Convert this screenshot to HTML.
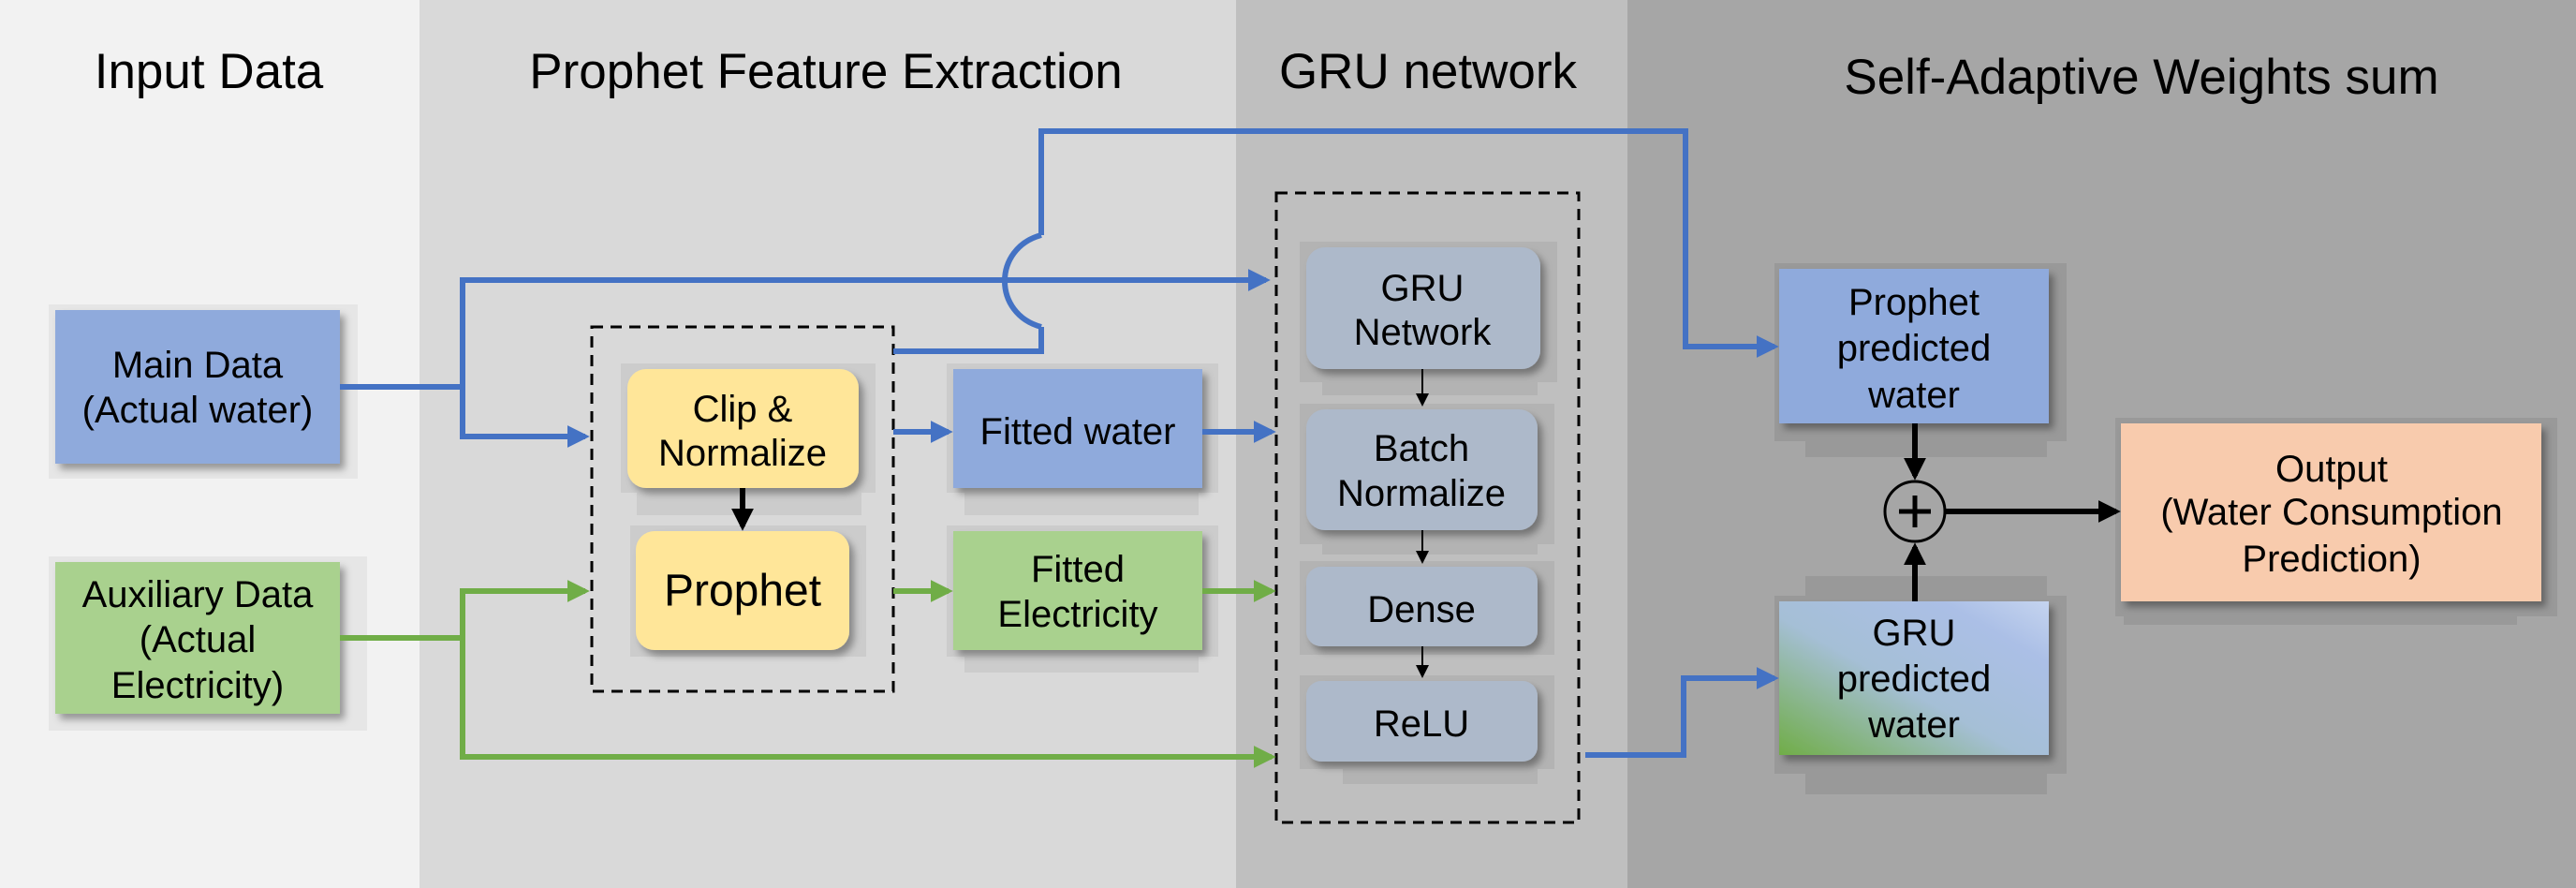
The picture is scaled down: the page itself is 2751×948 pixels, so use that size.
<!DOCTYPE html>
<html><head><meta charset="utf-8"><style>html,body{margin:0;padding:0;}svg{display:block}</style></head>
<body>
<svg width="2751" height="948" viewBox="0 0 2751 948" xmlns="http://www.w3.org/2000/svg" style="font-family:'Liberation Sans', Arial, sans-serif">
<defs>
<filter id="sh" x="-10%" y="-10%" width="130%" height="130%"><feDropShadow dx="5" dy="6" stdDeviation="4" flood-color="#000" flood-opacity="0.35"/></filter>
<linearGradient id="gg" x1="0" y1="1" x2="1" y2="0">
<stop offset="0" stop-color="#70ad47"/><stop offset="0.45" stop-color="#a5bfd6"/><stop offset="0.8" stop-color="#abbfe6"/><stop offset="1" stop-color="#c5d4ef"/></linearGradient>
<marker id="ab" markerWidth="4" markerHeight="4" refX="3.2" refY="2" orient="auto" markerUnits="strokeWidth"><path d="M0,0 L4,2 L0,4 z" fill="#4472c4"/></marker>
<marker id="ag" markerWidth="4" markerHeight="4" refX="3.2" refY="2" orient="auto" markerUnits="strokeWidth"><path d="M0,0 L4,2 L0,4 z" fill="#70ad47"/></marker>
<marker id="ak" markerWidth="4" markerHeight="4" refX="3.2" refY="2" orient="auto" markerUnits="strokeWidth"><path d="M0,0 L4,2 L0,4 z" fill="#000"/></marker>
<marker id="ak2" markerWidth="7" markerHeight="7" refX="6" refY="3.5" orient="auto" markerUnits="strokeWidth"><path d="M0,0 L7,3.5 L0,7 z" fill="#000"/></marker>
</defs>
<rect x="0" y="0" width="448" height="948" fill="#f2f2f2"/>
<rect x="448" y="0" width="872" height="948" fill="#d9d9d9"/>
<rect x="1320" y="0" width="418" height="948" fill="#bfbfbf"/>
<rect x="1738" y="0" width="1013" height="948" fill="#a6a6a6"/>
<g font-size="53" fill="#000" text-anchor="middle">
<text x="223" y="94">Input Data</text>
<text x="882" y="94">Prophet Feature Extraction</text>
<text x="1525" y="94">GRU network</text>
<text x="2287" y="100">Self-Adaptive Weights sum</text>
</g>
<g fill="#e6e6e6">
<rect x="52" y="325" width="330" height="186"/><rect x="52" y="594" width="340" height="186"/>
</g>
<g fill="#cccccc">
<rect x="663" y="388" width="272" height="138"/><rect x="680" y="520" width="240" height="30"/>
<rect x="673" y="561" width="252" height="140"/>
<rect x="1011" y="388" width="290" height="138"/><rect x="1030" y="520" width="250" height="30"/>
<rect x="1011" y="561" width="290" height="140"/><rect x="1030" y="690" width="250" height="28"/>
</g>
<g fill="#b3b3b3">
<rect x="1388" y="258" width="275" height="150"/><rect x="1412" y="400" width="230" height="22"/>
<rect x="1388" y="431" width="272" height="150"/><rect x="1412" y="570" width="230" height="22"/>
<rect x="1388" y="599" width="272" height="100"/>
<rect x="1388" y="721" width="272" height="100"/><rect x="1434" y="815" width="208" height="22"/>
</g>
<g fill="#999999">
<rect x="1895" y="281" width="312" height="190"/><rect x="1928" y="460" width="258" height="28"/>
<rect x="1895" y="636" width="312" height="190"/><rect x="1928" y="615" width="258" height="30"/><rect x="1928" y="820" width="258" height="28"/>
<rect x="2259" y="446" width="472" height="212"/><rect x="2268" y="640" width="420" height="27"/>
</g>
<g filter="url(#sh)">
<rect x="59" y="331" width="304" height="164" fill="#8faadc"/>
<rect x="59" y="600" width="304" height="162" fill="#a9d18e"/>
<rect x="670" y="394" width="247" height="127" rx="20" fill="#ffe699"/>
<rect x="679" y="567" width="228" height="127" rx="20" fill="#ffe699"/>
<rect x="1018" y="394" width="266" height="127" fill="#8faadc"/>
<rect x="1018" y="567" width="266" height="127" fill="#a9d18e"/>
<rect x="1395" y="264" width="250" height="130" rx="20" fill="#adb9ca"/>
<rect x="1395" y="437" width="247" height="129" rx="20" fill="#adb9ca"/>
<rect x="1395" y="605" width="247" height="85" rx="16" fill="#adb9ca"/>
<rect x="1395" y="727" width="247" height="86" rx="16" fill="#adb9ca"/>
<rect x="1900" y="287" width="288" height="165" fill="#8faadc"/>
<rect x="1900" y="642" width="288" height="164" fill="url(#gg)"/>
<rect x="2265" y="452" width="449" height="190" fill="#f8cbad"/>
</g>
<g fill="none" stroke="#000" stroke-width="3" stroke-dasharray="12,8">
<rect x="632" y="349" width="322" height="389"/>
<rect x="1363" y="206" width="323" height="672"/>
</g>
<g fill="none" stroke="#4472c4" stroke-width="6">
<polyline points="363,413 494,413"/>
<polyline points="494,413 494,299 1352,299" marker-end="url(#ab)"/>
<polyline points="494,413 494,466 625,466" marker-end="url(#ab)"/>
<polyline points="954,375 1112,375 1112,349"/>
<path d="M1112,349 C1060,335 1060,265 1112,251"/>
<polyline points="1112,251 1112,140 1800,140 1800,370 1895,370" marker-end="url(#ab)"/>
<polyline points="954,461 1013,461" marker-end="url(#ab)"/>
<polyline points="1284,461 1358,461" marker-end="url(#ab)"/>
<polyline points="1693,806 1798,806 1798,724 1895,724" marker-end="url(#ab)"/>
</g>
<g fill="none" stroke="#70ad47" stroke-width="6">
<polyline points="363,681 494,681"/>
<polyline points="494,681 494,631 625,631" marker-end="url(#ag)"/>
<polyline points="494,681 494,808 1358,808" marker-end="url(#ag)"/>
<polyline points="954,631 1013,631" marker-end="url(#ag)"/>
<polyline points="1284,631 1358,631" marker-end="url(#ag)"/>
</g>
<g fill="none" stroke="#000">
<line x1="793" y1="521" x2="793" y2="562" stroke-width="6" marker-end="url(#ak)"/>
<line x1="1519" y1="394" x2="1519" y2="432" stroke-width="2" marker-end="url(#ak2)"/>
<line x1="1519" y1="566" x2="1519" y2="600" stroke-width="2" marker-end="url(#ak2)"/>
<line x1="1519" y1="690" x2="1519" y2="722" stroke-width="2" marker-end="url(#ak2)"/>
<line x1="2045" y1="452" x2="2045" y2="508" stroke-width="6" marker-end="url(#ak)"/>
<line x1="2045" y1="642" x2="2045" y2="584" stroke-width="6" marker-end="url(#ak)"/>
<line x1="2078" y1="546" x2="2260" y2="546" stroke-width="6" marker-end="url(#ak)"/>
<circle cx="2045" cy="546" r="32" stroke-width="3"/>
<line x1="2028" y1="546" x2="2062" y2="546" stroke-width="5"/>
<line x1="2045" y1="529" x2="2045" y2="563" stroke-width="5"/>
</g>
<g font-size="40" fill="#000" text-anchor="middle" dominant-baseline="central">
<text x="211" y="390">Main Data</text><text x="211" y="438">(Actual water)</text>
<text x="211" y="635">Auxiliary Data</text><text x="211" y="683">(Actual</text><text x="211" y="732">Electricity)</text>
<text x="793" y="437">Clip &amp;</text><text x="793" y="484">Normalize</text>
<text x="793" y="631" font-size="48">Prophet</text>
<text x="1151" y="461">Fitted water</text>
<text x="1151" y="608">Fitted</text><text x="1151" y="656">Electricity</text>
<text x="1519" y="308">GRU</text><text x="1519" y="355">Network</text>
<text x="1518" y="479">Batch</text><text x="1518" y="527">Normalize</text>
<text x="1518" y="651">Dense</text>
<text x="1518" y="773">ReLU</text>
<text x="2044" y="323">Prophet</text><text x="2044" y="372">predicted</text><text x="2044" y="422">water</text>
<text x="2044" y="676">GRU</text><text x="2044" y="725">predicted</text><text x="2044" y="774">water</text>
<text x="2490" y="501">Output</text><text x="2490" y="547">(Water Consumption</text><text x="2490" y="597">Prediction)</text>
</g>
</svg>
</body></html>
